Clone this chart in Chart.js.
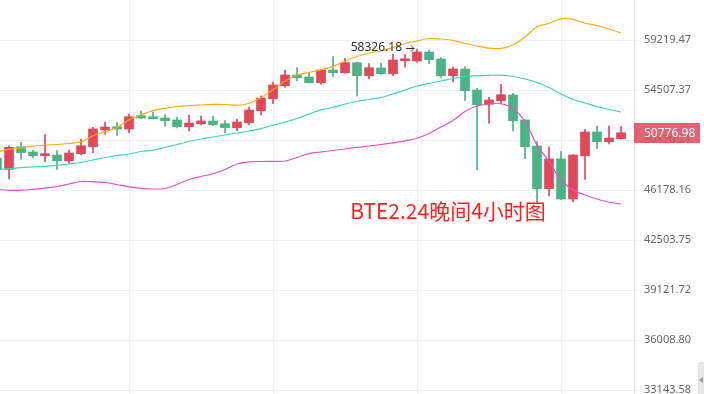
<!DOCTYPE html>
<html>
<head>
<meta charset="utf-8">
<script src="https://cdn.jsdelivr.net/npm/chart.js@4/dist/chart.umd.min.js"></script>
<style>
  html, body { margin: 0; padding: 0; background: #fff; }
  canvas { display: block; }
</style>
</head>
<body>
<canvas id="kline" width="704" height="394"></canvas>
<script>
// 4h candles, oldest first (first one is cut by the left edge)
var opens = [48696, 47791, 49615, 49182, 48880, 48938, 48478, 49043, 49615, 51035, 51290, 51094, 52233, 52146, 52033, 51862, 51290, 51546, 51777, 51546, 51205, 51631, 52668, 53724, 54900, 55881, 55695, 55173, 56345, 56094, 57034, 55815, 56534, 56001, 57222, 57194, 58053, 57384, 55815, 56440, 54507, 53233, 53549, 54057, 51862, 49672, 46278, 48615, 45495, 48880, 50841, 50029, 50279];
var highs = [48858, 49697, 49980, 49345, 50614, 49288, 49345, 50254, 51239, 51691, 51648, 52381, 52642, 52555, 52320, 52120, 52294, 52207, 52207, 51802, 51946, 52993, 53994, 55237, 56345, 56562, 56132, 56411, 57604, 57451, 57080, 56940, 56978, 57862, 57795, 58326.18, 58245, 57508, 56628, 56656, 54664, 53850, 55028, 54210, 51923, 50029, 49615, 49206, 48980, 51035, 51350, 51350, 51290];
var lows = [47657, 47029, 48590, 48718, 48397, 47791, 48270, 48938, 49125, 50648, 50547, 50782, 51972, 51946, 51324, 51179, 50925, 51435, 51375, 50782, 50950, 51435, 52294, 53285, 54755, 55355, 55150, 55028, 55760, 56039, 53967, 55512, 55945, 55815, 56600, 57072, 56940, 55666, 55237, 53549, 47735, 51580, 53233, 50950, 48636, 45170, 45722, 45450, 45268, 47005, 49452, 49839, 50240];
var closes = [47815, 49564, 49125, 48880, 49043, 48478, 49101, 49697, 51094, 51264, 51094, 52146, 52033, 51972, 51802, 51290, 51606, 51777, 51460, 51205, 51691, 52729, 53787, 54964, 55881, 55629, 55173, 56345, 56094, 57034, 55815, 56562, 56001, 57288, 57410, 58053, 57316, 55815, 56440, 54444, 53197, 53611, 54084, 51802, 49615, 46278, 48615, 45495, 48938, 50841, 50029, 50338, 50776.98];

// bollinger bands
var upper = [49183, 49411, 49543, 49675, 49758, 49799, 49881, 50022, 50531, 50867, 51222, 51888, 52322, 52669, 52879, 53038, 53109, 53169, 53223, 53214, 53144, 53303, 53808, 54535, 55300, 55882, 56114, 56364, 56685, 57193, 57623, 57958, 58150, 58489, 58879, 59122, 59368, 59318, 59190, 58879, 58635, 58421, 58411, 58732, 59517, 60542, 60864, 61339, 61288, 60884, 60662, 60310, 59913];
var middle = [47759, 47839, 47919, 47975, 48031, 48110, 48214, 48334, 48534, 48737, 48899, 49021, 49223, 49321, 49552, 49799, 50046, 50254, 50422, 50590, 50758, 50925, 51120, 51410, 51692, 51992, 52383, 52747, 52950, 53259, 53479, 53656, 53835, 54149, 54507, 54872, 55100, 55328, 55558, 55743, 55808, 55854, 55863, 55743, 55512, 55191, 54736, 54149, 53656, 53347, 53038, 52773, 52556];
var lower = [46217, 46155, 46163, 46232, 46317, 46448, 46641, 46834, 46811, 46757, 46602, 46425, 46309, 46255, 46294, 46602, 46990, 47225, 47437, 47775, 48214, 48390, 48414, 48430, 48454, 48737, 49053, 49183, 49305, 49428, 49568, 49675, 49799, 49939, 50104, 50313, 50716, 51265, 51819, 52599, 53082, 53259, 53303, 52861, 51734, 49758, 48414, 46950, 46178, 45798, 45495, 45247, 45120];

var yTicks = [59219.47, 54507.37, 50170.21, 46178.16, 42503.75, 39121.72, 36008.80, 33143.58];
var dayLines = [11, 23, 35, 47];   // vertical grid, every 12 candles
var title = 'BTE2.24晚间4小时图';

var UP = '#e2475a', DOWN = '#4cb384';

var wicks = [], bodies = [], cols = [];
var up = [], mid = [], low = [];
for (var i = 0; i < closes.length; i++) {
  wicks.push({x: i, y: [lows[i], highs[i]]});
  bodies.push({x: i, y: [Math.min(opens[i], closes[i]), Math.max(opens[i], closes[i])]});
  cols.push(closes[i] >= opens[i] ? UP : DOWN);
  up.push({x: i, y: upper[i]});
  mid.push({x: i, y: middle[i]});
  low.push({x: i, y: lower[i]});
}

var extras = {
  id: 'extras',
  afterDraw: function(chart) {
    var ctx = chart.ctx, xs = chart.scales.x, ys = chart.scales.y, area = chart.chartArea;
    ctx.save();
    // highest point label with arrow
    var hi = Math.max.apply(null, highs);
    var hiIdx = highs.indexOf(hi);
    var hx = xs.getPixelForValue(hiIdx) - 3, hy = Math.round(ys.getPixelForValue(hi)) - 1;
    ctx.font = '12px "Noto Sans", sans-serif';
    ctx.fillStyle = '#333';
    ctx.textAlign = 'right';
    ctx.textBaseline = 'middle';
    ctx.fillText(hi.toFixed(2), hx - 12, hy);
    ctx.strokeStyle = '#333';
    ctx.lineWidth = 1;
    ctx.beginPath();
    ctx.moveTo(hx - 8, hy + 0.5); ctx.lineTo(hx, hy + 0.5);
    ctx.moveTo(hx - 3, hy - 2.5); ctx.lineTo(hx, hy + 0.5); ctx.lineTo(hx - 3, hy + 3.5);
    ctx.stroke();

    // last price tag
    var last = closes[closes.length - 1];
    var ly = Math.round(ys.getPixelForValue(last));
    ctx.fillStyle = 'rgba(226,71,90,0.86)';
    ctx.fillRect(area.right, ly - 10, 66, 20);
    ctx.fillStyle = '#fff';
    ctx.textAlign = 'left';
    ctx.font = '12px "Noto Sans", sans-serif';
    ctx.fillText(last.toFixed(2), area.right + 10, ly + 1);

    // caption
    ctx.font = '21px "Noto Sans CJK SC", sans-serif';
    ctx.fillStyle = '#ff2020';
    ctx.textAlign = 'center';
    ctx.fillText(title, 448, 211);

    // little scroll handle in the corner
    ctx.fillStyle = '#e6e6e6';
    ctx.fillRect(698, 362, 6, 32);
    ctx.fillStyle = '#999';
    ctx.beginPath();
    ctx.moveTo(699, 380); ctx.lineTo(703, 377); ctx.lineTo(703, 383); ctx.closePath();
    ctx.fill();
    ctx.restore();
  }
};

function band(data, color) {
  return {
    type: 'line', data: data, borderColor: color, borderWidth: 1.2,
    pointRadius: 0, tension: 0.3, fill: false, order: 0
  };
}

new Chart(document.getElementById('kline'), {
  type: 'bar',
  data: {
    datasets: [
      band(up, '#ffab14'),
      band(mid, '#3dd6b0'),
      band(low, '#e94fc8'),
      {data: wicks, backgroundColor: cols, barThickness: 1, grouped: false, order: 2},
      {data: bodies, backgroundColor: cols, barThickness: 9, grouped: false, order: 1}
    ]
  },
  options: {
    responsive: false,
    animation: false,
    layout: {padding: 0},
    plugins: {legend: {display: false}, tooltip: {enabled: false}},
    scales: {
      x: {
        type: 'linear', min: 0.25, max: 53.0833, bounds: 'data', offset: false,
        afterBuildTicks: function(s) { s.ticks = dayLines.map(function(v) { return {value: v}; }); },
        afterFit: function(s) { s.height = 0; },
        ticks: {display: false},
        grid: {color: '#eef1f5', drawTicks: false, offset: false},
        border: {display: false}
      },
      y: {
        type: 'logarithmic', position: 'right', min: 32924.5, max: 63280.8, bounds: 'data',
        afterBuildTicks: function(s) { s.ticks = yTicks.map(function(v) { return {value: v}; }); },
        afterFit: function(s) { s.width = 70; s.paddingTop = 0; s.paddingBottom = 0; },
        ticks: {
          color: '#666', padding: 5,
          font: {family: '"Noto Sans", sans-serif', size: 11},
          callback: function(v) { return Number(v).toFixed(2); }
        },
        grid: {color: '#eef1f5', tickLength: 5},
        border: {color: '#e3e6eb'}
      }
    }
  },
  plugins: [extras]
});
</script>
</body>
</html>
